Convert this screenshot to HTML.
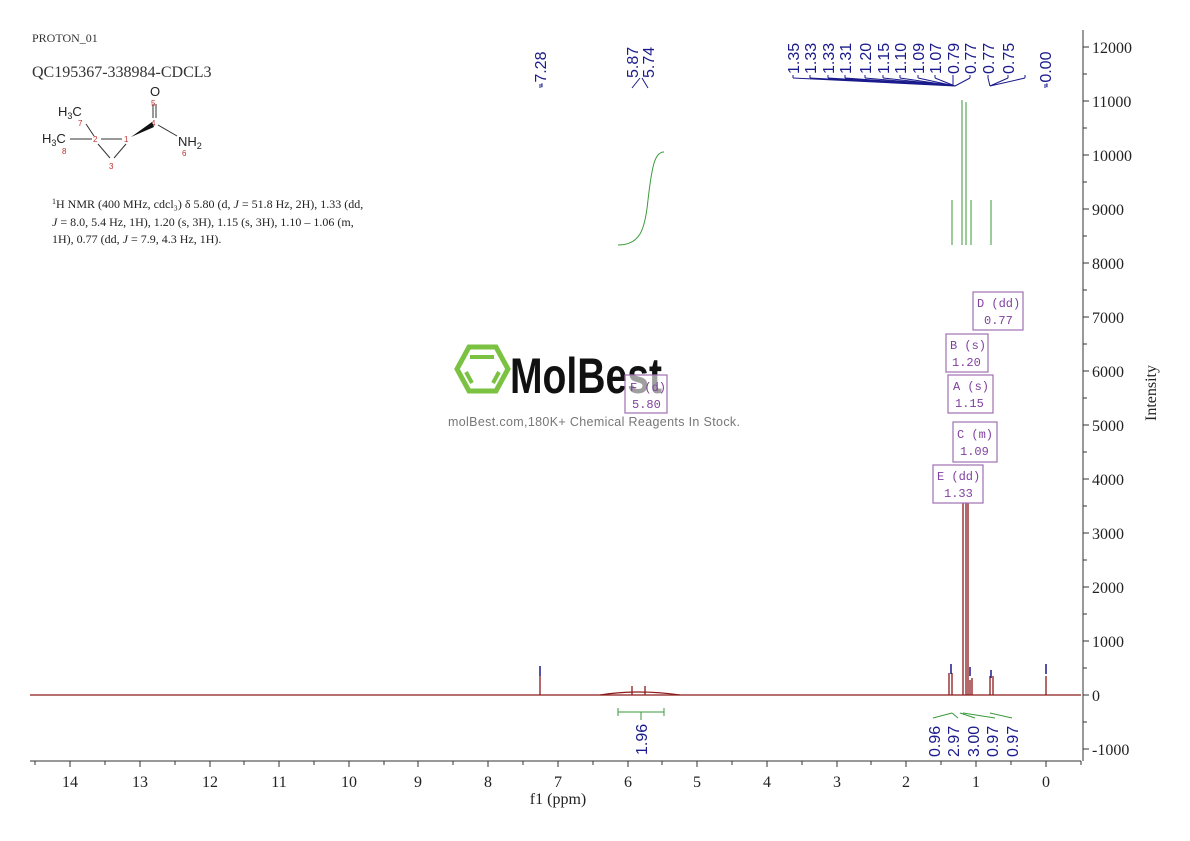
<!DOCTYPE html>
<html><head><meta charset="utf-8"><style>
body{margin:0;background:#fff;}
svg{display:block;}
.ser{font-family:"Liberation Serif",serif;}
.lab{font-family:"Liberation Sans",sans-serif;fill:#1a1a8c;font-size:16px;}
.box{fill:#fff;stroke:#a070b0;stroke-width:1.2;}
.bt{font-family:"Liberation Mono",monospace;font-size:12px;fill:#8040a0;}
</style></head><body>
<svg width="1190" height="841" viewBox="0 0 1190 841" xmlns="http://www.w3.org/2000/svg">
<text x="32" y="42" class="ser" font-size="12" fill="#333">PROTON_01</text>
<text x="32" y="77" class="ser" font-size="16" fill="#333">QC195367-338984-CDCL3</text>
<g font-family="Liberation Sans,sans-serif" font-size="13" fill="#222">
<text x="150" y="96">O</text>
<line x1="153" y1="104" x2="153" y2="118" stroke="#333"/><line x1="156" y1="104" x2="156" y2="118" stroke="#333"/>
<text x="151" y="106" font-size="8" fill="#c03030">5</text>
<text x="151" y="126" font-size="8" fill="#c03030">4</text>
<polygon points="131,137 152,122 154,127" fill="#111"/>
<line x1="158" y1="125" x2="177" y2="136" stroke="#333"/>
<text x="178" y="146">NH<tspan font-size="9" dy="3">2</tspan></text>
<text x="182" y="156" font-size="8" fill="#c03030">6</text>
<text x="58" y="116">H<tspan font-size="9" dy="3">3</tspan><tspan dy="-3">C</tspan></text>
<text x="78" y="126" font-size="8" fill="#c03030">7</text>
<line x1="86" y1="124" x2="94" y2="136" stroke="#333"/>
<text x="42" y="143">H<tspan font-size="9" dy="3">3</tspan><tspan dy="-3">C</tspan></text>
<text x="62" y="154" font-size="8" fill="#c03030">8</text>
<line x1="70" y1="139" x2="92" y2="139" stroke="#333"/>
<text x="93" y="142" font-size="8" fill="#c03030">2</text>
<line x1="101" y1="139" x2="122" y2="139" stroke="#333"/>
<text x="124" y="142" font-size="8" fill="#c03030">1</text>
<line x1="98" y1="144" x2="110" y2="158" stroke="#333"/><line x1="126" y1="144" x2="114" y2="158" stroke="#333"/>
<text x="109" y="169" font-size="8" fill="#c03030">3</text>
</g>
<g class="ser" font-size="12" fill="#222">
<text x="52" y="208"><tspan font-size="8" dy="-4">1</tspan><tspan dy="4">H NMR (400 MHz, cdcl₃) δ 5.80 (d, </tspan><tspan font-style="italic">J</tspan> = 51.8 Hz, 2H), 1.33 (dd,</text>
<text x="52" y="226"><tspan font-style="italic">J</tspan> = 8.0, 5.4 Hz, 1H), 1.20 (s, 3H), 1.15 (s, 3H), 1.10 – 1.06 (m,</text>
<text x="52" y="243">1H), 0.77 (dd, <tspan font-style="italic">J</tspan> = 7.9, 4.3 Hz, 1H).</text>
</g>
<g stroke="#333" stroke-width="1" fill="none">
<line x1="30" y1="761" x2="1081" y2="761"/>
<line x1="1083" y1="30" x2="1083" y2="761"/>
<path d="M70,761v6M140,761v6M210,761v6M279,761v6M349,761v6M418,761v6M488,761v6M558,761v6M628,761v6M697,761v6M767,761v6M837,761v6M906,761v6M976,761v6M1046,761v6"/>
<path d="M35,761v4M105,761v4M175,761v4M244,761v4M314,761v4M384,761v4M453,761v4M523,761v4M593,761v4M662,761v4M732,761v4M802,761v4M871,761v4M941,761v4M1011,761v4M1081,761v4"/>
<path d="M1083,47h6M1083,101h6M1083,155h6M1083,209h6M1083,263h6M1083,317h6M1083,371h6M1083,425h6M1083,479h6M1083,533h6M1083,587h6M1083,641h6M1083,695h6M1083,749h6"/>
<path d="M1083,74h4M1083,128h4M1083,182h4M1083,236h4M1083,290h4M1083,344h4M1083,398h4M1083,452h4M1083,506h4M1083,560h4M1083,614h4M1083,668h4M1083,722h4"/>
</g>
<g class="ser" font-size="16" fill="#222">
<text x="1092" y="53">12000</text><text x="1092" y="107">11000</text><text x="1092" y="161">10000</text><text x="1092" y="215">9000</text><text x="1092" y="269">8000</text><text x="1092" y="323">7000</text><text x="1092" y="377">6000</text><text x="1092" y="431">5000</text><text x="1092" y="485">4000</text><text x="1092" y="539">3000</text><text x="1092" y="593">2000</text><text x="1092" y="647">1000</text><text x="1092" y="701">0</text><text x="1092" y="755">-1000</text>
</g>
<g class="ser" font-size="16" fill="#222" text-anchor="middle">
<text x="70" y="787">14</text><text x="140" y="787">13</text><text x="210" y="787">12</text><text x="279" y="787">11</text><text x="349" y="787">10</text><text x="418" y="787">9</text><text x="488" y="787">8</text><text x="558" y="787">7</text><text x="628" y="787">6</text><text x="697" y="787">5</text><text x="767" y="787">4</text><text x="837" y="787">3</text><text x="906" y="787">2</text><text x="976" y="787">1</text><text x="1046" y="787">0</text>
<text x="558" y="804">f1 (ppm)</text>
</g>
<text class="ser" font-size="16" fill="#222" transform="translate(1156,393) rotate(-90)" text-anchor="middle">Intensity</text>
<polygon points="469,347 496,347 508,369 496,391 469,391 457,369" fill="none" stroke="#7cc242" stroke-width="5"/>
<path d="M470,357h24M466,372l6,11M499,372l-6,11" stroke="#7cc242" stroke-width="4" fill="none"/>
<text x="510" y="393" font-family="Liberation Sans Narrow,Liberation Sans,sans-serif" font-weight="bold" font-size="50" fill="#111" textLength="152" lengthAdjust="spacingAndGlyphs">MolBest</text>
<text x="448" y="426" font-family="Liberation Sans,sans-serif" font-size="12.5" fill="#777" textLength="292">molBest.com,180K+ Chemical Reagents In Stock.</text>
<g stroke="#8b1a1a" stroke-width="1.3" fill="none">
<path d="M30,695H1081"/>
<path d="M540,695V676M1046,695V676M632,695V686M645,695V686M949,695V673M952,695V673M963,695V483M966,695V483M968,695V483M970,695V680M972,695V678M990,695V676M993,695V676"/>
<path d="M600,695Q638,689 680,695"/>
</g>
<g stroke="#1a1a8c" stroke-width="1.5"><path d="M540,666v10M1046,664v10M951,664v10M970,667v9M991,670v8"/></g>
<g stroke="#3a9a3a" stroke-width="1" fill="none">
<path d="M618,245C640,245 645,230 648,200C652,165 655,152 664,152"/>
<path d="M952,200V245M962,100V245M966,102V245M971,200V245M991,200V245"/>
<path d="M618,712H664M618,708v8M664,708v8M641,712v8"/>
<path d="M933,718L952,713M952,713L958,718M960,713L975,718M963,713L995,718M990,713L1012,718"/>
</g>
<g stroke="#1a1a8c" stroke-width="1" fill="none">
<path d="M540,88v-4M632,88l8,-10M648,88l-6,-10M1045,88v-4M793,78l162,8M810,78l145,8M828,78l127,8M845,78l110,8M865,78l90,8M883,78l72,8M900,78l55,8M918,78l37,8M935,78l20,8M953,78v8M970,78l-15,8M988,78l2,8M1008,78l-18,8M1025,78l-35,8"/>
<path d="M793,78v-3M810,78v-3M828,78v-3M845,78v-3M865,78v-3M883,78v-3M900,78v-3M918,78v-3M935,78v-3M953,78v-3M970,78v-3M988,78v-3M1008,78v-3M1025,78v-3"/>
</g>
<g class="lab">
<text transform="translate(546,88) rotate(-90)">-7.28</text>
<text transform="translate(638,78) rotate(-90)">5.87</text>
<text transform="translate(654,78) rotate(-90)">5.74</text>
<text transform="translate(799,74) rotate(-90)">1.35</text>
<text transform="translate(816,74) rotate(-90)">1.33</text>
<text transform="translate(834,74) rotate(-90)">1.33</text>
<text transform="translate(851,74) rotate(-90)">1.31</text>
<text transform="translate(871,74) rotate(-90)">1.20</text>
<text transform="translate(889,74) rotate(-90)">1.15</text>
<text transform="translate(906,74) rotate(-90)">1.10</text>
<text transform="translate(924,74) rotate(-90)">1.09</text>
<text transform="translate(941,74) rotate(-90)">1.07</text>
<text transform="translate(959,74) rotate(-90)">0.79</text>
<text transform="translate(976,74) rotate(-90)">0.77</text>
<text transform="translate(994,74) rotate(-90)">0.77</text>
<text transform="translate(1014,74) rotate(-90)">0.75</text>
<text transform="translate(1051,88) rotate(-90)">-0.00</text>
<text transform="translate(647,755) rotate(-90)">1.96</text>
<text transform="translate(940,757) rotate(-90)">0.96</text>
<text transform="translate(959,757) rotate(-90)">2.97</text>
<text transform="translate(979,757) rotate(-90)">3.00</text>
<text transform="translate(998,757) rotate(-90)">0.97</text>
<text transform="translate(1018,757) rotate(-90)">0.97</text>
</g>
<rect x="973" y="292" width="50" height="38" class="box"/><text x="977" y="307" class="bt">D (dd)</text><text x="984" y="324" class="bt">0.77</text>
<rect x="946" y="334" width="42" height="38" class="box"/><text x="950" y="349" class="bt">B (s)</text><text x="952" y="366" class="bt">1.20</text>
<rect x="948" y="375" width="45" height="38" class="box"/><text x="953" y="390" class="bt">A (s)</text><text x="955" y="407" class="bt">1.15</text>
<rect x="953" y="422" width="44" height="40" class="box"/><text x="957" y="438" class="bt">C (m)</text><text x="960" y="455" class="bt">1.09</text>
<rect x="933" y="465" width="50" height="38" class="box"/><text x="937" y="480" class="bt">E (dd)</text><text x="944" y="497" class="bt">1.33</text>
<rect x="625" y="375" width="42" height="38" class="box" fill-opacity="0.6"/><text x="630" y="391" class="bt">F (d)</text><text x="632" y="408" class="bt">5.80</text>
</svg>
</body></html>
